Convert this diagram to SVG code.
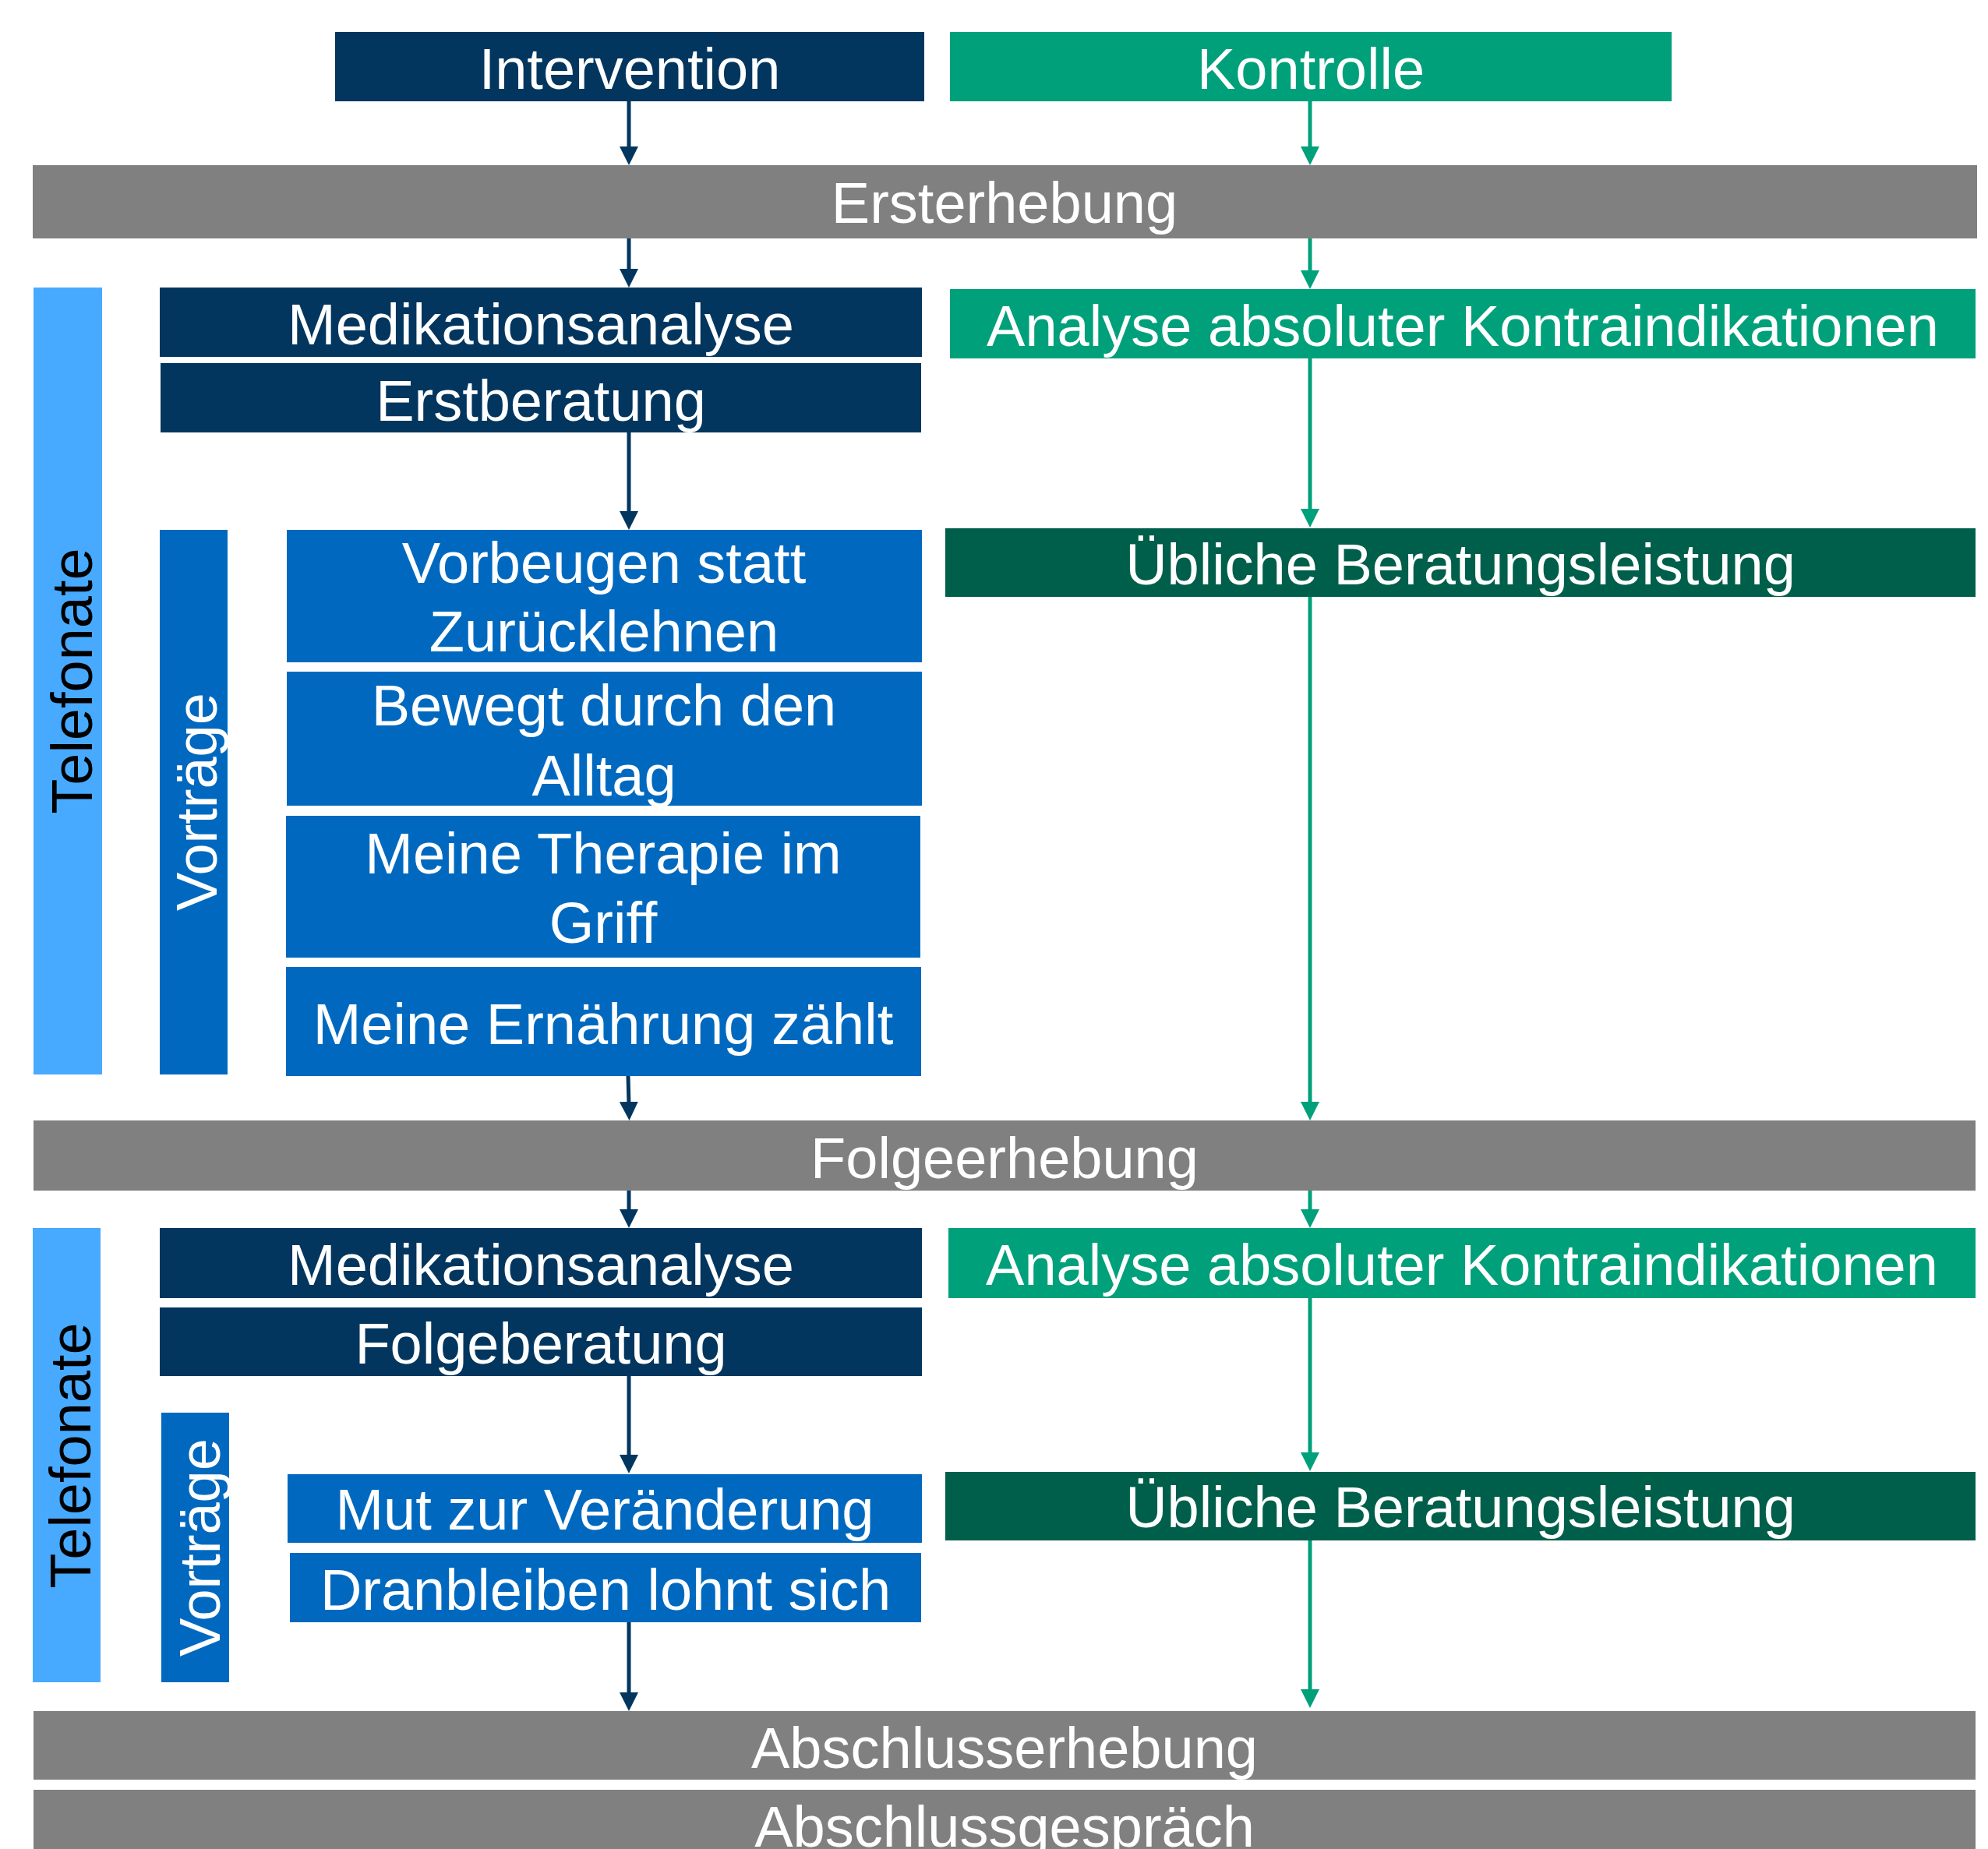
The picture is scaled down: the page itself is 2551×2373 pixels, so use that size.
<svg xmlns="http://www.w3.org/2000/svg" width="2551" height="2373" viewBox="0 0 2551 2373">
<style>
  text { font-family: "Liberation Sans", Arial, sans-serif; font-size: 74px; text-anchor: middle; }
  .w { fill: #ffffff; }
  .k { fill: #000000; }
  .navy { fill: #02365F; }
  .green { fill: #00A07A; }
  .dgreen { fill: #005F4A; }
  .gray { fill: #808080; }
  .lblue { fill: #47AAFF; }
  .mblue { fill: #0069BF; }
  .cn { stroke: #02365F; stroke-width: 5; fill: none; marker-end: url(#an); }
  .cg { stroke: #00A07A; stroke-width: 5; fill: none; marker-end: url(#ag); }
</style>
<defs>
  <marker id="an" markerUnits="userSpaceOnUse" markerWidth="24" markerHeight="24" viewBox="0 0 24 24" refX="4" refY="12" orient="auto">
    <path d="M0,0 L24,12 L0,24 z" fill="#02365F"/>
  </marker>
  <marker id="ag" markerUnits="userSpaceOnUse" markerWidth="24" markerHeight="24" viewBox="0 0 24 24" refX="4" refY="12" orient="auto">
    <path d="M0,0 L24,12 L0,24 z" fill="#00A07A"/>
  </marker>
</defs>
<rect width="2551" height="2373" fill="#ffffff"/>

<g id="connectors">
  <line class="cn" x1="807" y1="130" x2="807" y2="192"/>
  <line class="cn" x1="807" y1="306" x2="807" y2="349"/>
  <line class="cn" x1="807" y1="555" x2="807" y2="660"/>
  <line class="cn" x1="806" y1="1381" x2="807" y2="1418"/>
  <line class="cn" x1="807" y1="1527" x2="807" y2="1556"/>
  <line class="cn" x1="807" y1="1766" x2="807" y2="1871"/>
  <line class="cn" x1="807" y1="2082" x2="807" y2="2176"/>
  <line class="cg" x1="1681" y1="130" x2="1681" y2="192"/>
  <line class="cg" x1="1681" y1="306" x2="1681" y2="351"/>
  <line class="cg" x1="1681" y1="460" x2="1681" y2="657"/>
  <line class="cg" x1="1681" y1="766" x2="1681" y2="1418"/>
  <line class="cg" x1="1681" y1="1527" x2="1681" y2="1556"/>
  <line class="cg" x1="1681" y1="1665" x2="1681" y2="1868"/>
  <line class="cg" x1="1681" y1="1977" x2="1681" y2="2172"/>
</g>

<g id="intervention">
  <rect class="navy" x="430" y="41" width="756" height="89"/>
  <text class="w" x="808" y="114">Intervention</text>
</g>
<g id="kontrolle">
  <rect class="green" x="1219" y="41" width="926" height="89"/>
  <text class="w" x="1682" y="114">Kontrolle</text>
</g>
<g id="ersterhebung">
  <rect class="gray" x="42" y="212" width="2495" height="94"/>
  <text class="w" x="1289" y="286">Ersterhebung</text>
</g>

<g id="telefonate1">
  <rect class="lblue" x="43" y="369" width="88" height="1010"/>
  <text class="k" transform="translate(118,874) rotate(-90)">Telefonate</text>
</g>
<g id="medikationsanalyse1">
  <rect class="navy" x="205" y="369" width="978" height="89"/>
  <text class="w" x="694" y="442">Medikationsanalyse</text>
</g>
<g id="erstberatung">
  <rect class="navy" x="206" y="466" width="976" height="89"/>
  <text class="w" x="694" y="540">Erstberatung</text>
</g>
<g id="analyse1">
  <rect class="green" x="1219" y="371" width="1316" height="89"/>
  <text class="w" x="1877" y="444">Analyse absoluter Kontraindikationen</text>
</g>

<g id="vortraege1">
  <rect class="mblue" x="205" y="680" width="87" height="699"/>
  <text class="w" transform="translate(278,1029) rotate(-90)">Vorträge</text>
</g>
<g id="vorbeugen">
  <rect class="mblue" x="368" y="680" width="815" height="170"/>
  <text class="w" x="775" y="748">Vorbeugen statt</text>
  <text class="w" x="775" y="836">Zurücklehnen</text>
</g>
<g id="bewegt">
  <rect class="mblue" x="368" y="862" width="815" height="172"/>
  <text class="w" x="775" y="931">Bewegt durch den</text>
  <text class="w" x="775" y="1021">Alltag</text>
</g>
<g id="therapie">
  <rect class="mblue" x="367" y="1047" width="814" height="182"/>
  <text class="w" x="774" y="1121">Meine Therapie im</text>
  <text class="w" x="774" y="1210">Griff</text>
</g>
<g id="ernaehrung">
  <rect class="mblue" x="367" y="1241" width="815" height="140"/>
  <text class="w" x="774" y="1340">Meine Ernährung zählt</text>
</g>
<g id="ueblich1">
  <rect class="dgreen" x="1213" y="678" width="1322" height="88"/>
  <text class="w" x="1874" y="750">Übliche Beratungsleistung</text>
</g>

<g id="folgeerhebung">
  <rect class="gray" x="43" y="1438" width="2492" height="90"/>
  <text class="w" x="1289" y="1512">Folgeerhebung</text>
</g>

<g id="telefonate2">
  <rect class="lblue" x="42" y="1576" width="87" height="583"/>
  <text class="k" transform="translate(116,1868) rotate(-90)">Telefonate</text>
</g>
<g id="medikationsanalyse2">
  <rect class="navy" x="205" y="1576" width="978" height="90"/>
  <text class="w" x="694" y="1649">Medikationsanalyse</text>
</g>
<g id="folgeberatung">
  <rect class="navy" x="205" y="1678" width="978" height="88"/>
  <text class="w" x="694" y="1750">Folgeberatung</text>
</g>
<g id="analyse2">
  <rect class="green" x="1217" y="1576" width="1318" height="90"/>
  <text class="w" x="1876" y="1649">Analyse absoluter Kontraindikationen</text>
</g>
<g id="vortraege2">
  <rect class="mblue" x="207" y="1813" width="87" height="346"/>
  <text class="w" transform="translate(282,1986) rotate(-90)">Vorträge</text>
</g>
<g id="mut">
  <rect class="mblue" x="369" y="1892" width="814" height="88"/>
  <text class="w" x="776" y="1963">Mut zur Veränderung</text>
</g>
<g id="dranbleiben">
  <rect class="mblue" x="372" y="1993" width="810" height="89"/>
  <text class="w" x="777" y="2066">Dranbleiben lohnt sich</text>
</g>
<g id="ueblich2">
  <rect class="dgreen" x="1213" y="1889" width="1322" height="88"/>
  <text class="w" x="1874" y="1960">Übliche Beratungsleistung</text>
</g>

<g id="abschlusserhebung">
  <rect class="gray" x="43" y="2196" width="2492" height="88"/>
  <text class="w" x="1289" y="2269">Abschlusserhebung</text>
</g>
<g id="abschlussgespraech">
  <rect class="gray" x="43" y="2297" width="2492" height="76"/>
  <text class="w" x="1289" y="2370">Abschlussgespräch</text>
</g>
</svg>
